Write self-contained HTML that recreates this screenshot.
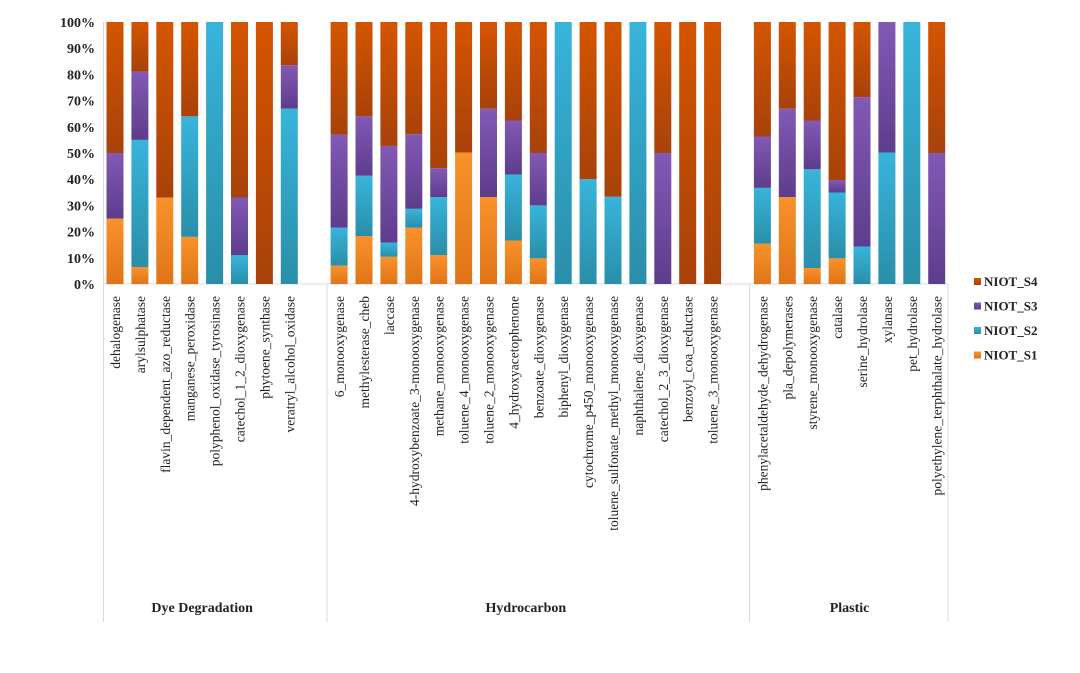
<!DOCTYPE html>
<html><head><meta charset="utf-8"><style>
body{margin:0;background:#fff;}
svg text{font-family:"Liberation Serif",serif;}
</style></head><body>
<svg id="chart" width="1080" height="668" viewBox="0 0 1080 668" xmlns="http://www.w3.org/2000/svg">
<defs>
<linearGradient id="g1" x1="0" y1="0" x2="0" y2="1"><stop offset="0" stop-color="#f8922c"/><stop offset="1" stop-color="#e07518"/></linearGradient>
<linearGradient id="g2" x1="0" y1="0" x2="0" y2="1"><stop offset="0" stop-color="#38b4db"/><stop offset="1" stop-color="#2a8ea8"/></linearGradient>
<linearGradient id="g3" x1="0" y1="0" x2="0" y2="1"><stop offset="0" stop-color="#8259b5"/><stop offset="1" stop-color="#5e3d8c"/></linearGradient>
<linearGradient id="g4" x1="0" y1="0" x2="0" y2="1"><stop offset="0" stop-color="#d45500"/><stop offset="1" stop-color="#a8420a"/></linearGradient>
</defs>
<g id="axes"></g><g id="bars"></g><g id="labels"></g><g id="legend"></g>
</svg>
<script>
const categories=["dehalogenase","arylsulphatase","flavin_dependent_azo_reductase","manganese_peroxidase","polyphenol_oxidase_tyrosinase","catechol_1_2_dioxygenase","phytoene_synthase","veratryl_alcohol_oxidase",
"6_monooxygenase","methylesterase_cheb","laccase","4-hydroxybenzoate_3-monooxygenase","methane_monooxygenase","toluene_4_monooxygenase","toluene_2_monooxygenase","4_hydroxyacetophenone","benzoate_dioxygenase","biphenyl_dioxygenase","cytochrome_p450_monooxygenase","toluene_sulfonate_methyl_monooxygenase","naphthalene_dioxygenase","catechol_2_3_dioxygenase","benzoyl_coa_reductase","toluene_3_monooxygenase",
"phenylacetaldehyde_dehydrogenase","pla_depolymerases","styrene_monooxygenase","catalase","serine_hydrolase","xylanase","pet_hydrolase","polyethylene_terphthalate_hydrolase"];
const groups=["Dye Degradation","Hydrocarbon","Plastic"];
const groupSizes=[8,16,8];
const s1=[25,6.5,33,18,0,0,0,0, 7,18.3,10.4,21.5,11,50.2,33.2,16.6,9.8,0,0,0,0,0,0,0, 15.4,33.2,6.1,9.8,0,0,0,0];
const s2=[0,48.5,0,46,100,11,0,67, 14.5,23.1,5.4,7.2,22.2,0,0,25.2,20.2,100,40,33.3,100,0,0,0, 21.3,0,37.7,25.1,14.3,50.2,100,0];
const s3=[25,26,0,0,0,22,0,16.5, 35.5,22.6,36.9,28.5,11,0,33.7,20.6,20,0,0,0,0,50,0,0, 19.6,33.7,18.6,4.8,57,49.8,0,50];
const s4=[50,19,67,36,0,67,100,16.5, 43,36,47.3,42.8,55.8,49.8,33.1,37.6,50,0,60,66.7,0,50,100,100, 43.7,33.1,37.6,60.3,28.7,0,0,50];
const series=[s1,s2,s3,s4];
const seriesNames=["NIOT_S1","NIOT_S2","NIOT_S3","NIOT_S4"];
const yTicks=[0,10,20,30,40,50,60,70,80,90,100];

const NS="http://www.w3.org/2000/svg";
const y0=284,y1=22,pitch=24.9,x0=115,bw=17;
function yScale(v){return y0-(y0-y1)*v/100;}
function slot(i){let g=0,c=0;for(let k=0;k<groupSizes.length;k++){if(i<c+groupSizes[k]){g=k;break;}c+=groupSizes[k];}return i+g;}
function xScale(i){return x0+pitch*slot(i);}
function mk(tag,attrs,parent){const e=document.createElementNS(NS,tag);for(const k in attrs)e.setAttribute(k,attrs[k]);parent.appendChild(e);return e;}
const axes=document.getElementById('axes'),bars=document.getElementById('bars'),labels=document.getElementById('labels'),legend=document.getElementById('legend');
yTicks.forEach(t=>{const tx=mk('text',{x:95,y:yScale(t)+5,'text-anchor':'end','font-size':14,'font-weight':'bold',fill:'#222'},axes);tx.textContent=t+'%';

});
// frame lines
const ln=mk('line',{x1:103,y1:y0,x2:948,y2:y0,stroke:'#d8d8e8','stroke-width':1},axes);


const ax=mk('line',{x1:103.5,y1:y1,x2:103.5,y2:622,stroke:'#d8d8e8','stroke-width':1},axes);


let c=0;
groupSizes.forEach((n,g)=>{
  const first=xScale(c),last=xScale(c+n-1);
  const right=last+pitch*(g==groupSizes.length-1?0.5:1.5)-(g==groupSizes.length-1?0:0);
  const xr=g==0?327:(g==1?749.5:948);
  const sep=mk('line',{x1:xr,y1:y0,x2:xr,y2:622,stroke:'#d8d8e8','stroke-width':1},axes);
  
  
  const gt=mk('text',{x:(first+last)/2,y:612,'text-anchor':'middle','font-size':14,'font-weight':'bold',fill:'#222'},labels);
  gt.textContent=groups[g];
  
  
  c+=n;
});
categories.forEach((cat,i)=>{
  const cx=xScale(i);let acc=0;
  series.forEach((s,k)=>{const v=s[i];if(v<=0)return;
    const r=mk('rect',{x:cx-bw/2,y:yScale(acc+v),width:bw,height:yScale(acc)-yScale(acc+v),fill:'url(#g'+(k+1)+')'},bars);
    
    
    acc+=v;});
  const t=mk('text',{transform:'translate('+(cx+5)+',296) rotate(-90)','text-anchor':'end','font-size':13.5,fill:'#222'},labels);
  t.textContent=cat;
  
  
});
[3,2,1,0].forEach((k,j)=>{
  const y=283+j*24.5;
  const r=mk('rect',{x:974,y:y-5,width:7,height:7,fill:'url(#g'+(k+1)+')'},legend);
  
  
  const t=mk('text',{x:984,y:y+3,'font-size':13,'font-weight':'bold',fill:'#222'},legend);
  t.textContent=seriesNames[k];
  
  
});
</script>
</body></html>
